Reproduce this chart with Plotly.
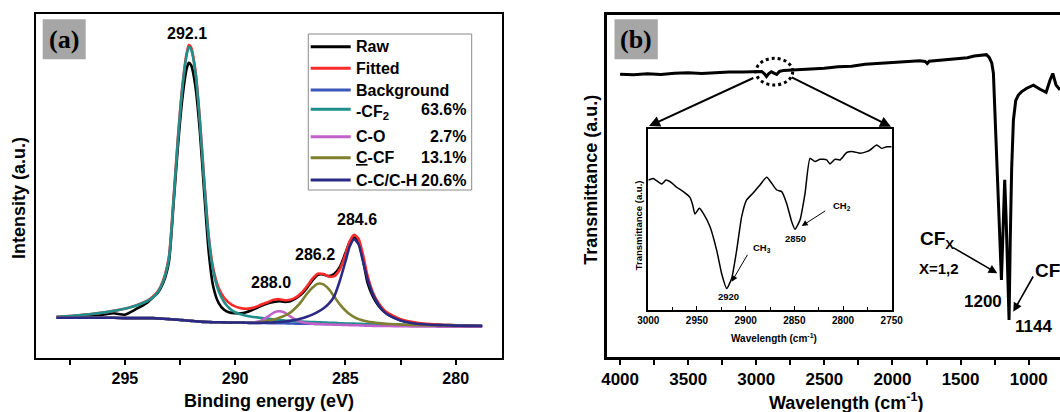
import plotly.graph_objects as go

W, H = 1060, 412
def X(p): return p / W
def Y(p): return 1 - p / H

# ---------------- panel (a): XPS C1s ----------------
BE = [298.1, 297.5, 297.0, 296.5, 296.0, 295.5, 295.0, 294.5, 294.0,
      293.75, 293.5, 293.25, 293.0, 292.8, 292.6, 292.4, 292.2, 292.1, 292.0,
      291.8, 291.6, 291.4, 291.2, 291.0, 290.75, 290.5, 290.25, 290.0,
      289.75, 289.5, 289.25, 289.0, 288.75, 288.5, 288.25, 288.0,
      287.75, 287.5, 287.25, 287.0, 286.75, 286.5, 286.25, 286.0,
      285.75, 285.5, 285.25, 285.0, 284.8, 284.6, 284.4, 284.2, 284.0,
      283.75, 283.5, 283.25, 283.0, 282.5, 282.0, 281.5, 281.0, 280.5, 280.0, 279.5, 278.8]

RAW = [11.8, 11.9, 12.1, 12.3, 12.6, 13.0, 12.6, 14.2, 16.0,
       17.5, 19.0, 22.0, 28.0, 44.0, 61.0, 75.0, 84.0, 85.8, 85.2,
       79.0, 66.0, 48.0, 31.0, 21.0, 16.0, 14.0, 13.2, 13.0,
       13.0, 13.3, 13.9, 14.6, 15.3, 15.9, 16.3, 16.5,
       16.3, 16.5, 17.3, 18.5, 20.3, 22.5, 24.2, 24.3,
       23.8, 24.5, 26.5, 30.5, 33.8, 35.0, 33.5, 28.5, 22.0,
       17.8, 15.2, 13.5, 12.4, 11.0, 10.3, 9.9, 9.7, 9.6, 9.5, 9.4, 9.3]

FITTED = [12.0, 12.2, 12.5, 12.8, 13.2, 13.7, 14.3, 15.3, 16.6,
          17.7, 19.4, 22.8, 29.5, 45.5, 63.5, 78.5, 88.5, 91.0, 90.4,
          83.6, 69.6, 51.6, 35.7, 26.3, 20.4, 17.5, 15.9, 15.0,
          14.5, 14.3, 14.5, 15.0, 15.7, 16.3, 16.9, 17.1,
          16.8, 16.9, 17.6, 18.9, 20.8, 23.0, 24.5, 24.4,
          23.7, 23.8, 25.8, 30.0, 34.0, 35.8, 34.6, 30.0, 24.0,
          19.0, 16.0, 14.0, 12.8, 11.3, 10.5, 10.0, 9.8, 9.6, 9.5, 9.4, 9.3]

BACKGROUND = [11.7, 11.7, 11.7, 11.7, 11.7, 11.7, 11.6, 11.6, 11.6,
              11.6, 11.5, 11.4, 11.3, 11.2, 11.1, 11.0, 10.9, 10.85, 10.8,
              10.7, 10.6, 10.5, 10.45, 10.4, 10.4, 10.35, 10.3, 10.3,
              10.3, 10.25, 10.2, 10.2, 10.2, 10.15, 10.1, 10.1,
              10.1, 10.05, 10.0, 10.0, 10.0, 9.95, 9.9, 9.9,
              9.9, 9.85, 9.8, 9.8, 9.8, 9.75, 9.75, 9.7, 9.7,
              9.7, 9.65, 9.6, 9.6, 9.55, 9.5, 9.45, 9.4, 9.4, 9.35, 9.3, 9.3]

CF2 = [12.0, 12.2, 12.5, 12.8, 13.2, 13.7, 14.3, 15.2, 16.5,
       17.5, 19.2, 22.5, 29.0, 45.0, 63.0, 78.0, 88.0, 90.4, 89.8,
       83.0, 69.0, 51.0, 35.0, 25.5, 19.5, 16.3, 14.4, 13.3,
       12.7, 12.3, 12.0, 11.8, 11.6, 11.4, 11.2, 11.0,
       10.9, 10.8, 10.7, 10.6, 10.5, 10.45, 10.4, 10.3,
       10.25, 10.2, 10.1, 10.05, 10.0, 10.0, 9.95, 9.9, 9.9,
       9.85, 9.8, 9.8, 9.75, 9.7, 9.6, 9.55, 9.5, 9.45, 9.4, 9.35, 9.3]

CO = [11.7, 11.7, 11.7, 11.7, 11.7, 11.7, 11.6, 11.6, 11.6,
      11.6, 11.5, 11.4, 11.3, 11.2, 11.1, 11.0, 10.9, 10.85, 10.8,
      10.7, 10.6, 10.5, 10.45, 10.4, 10.4, 10.35, 10.3, 10.3,
      10.3, 10.25, 10.3, 10.5, 11.1, 12.1, 13.2, 13.6,
      13.2, 12.1, 11.1, 10.5, 10.2, 10.0, 9.9, 9.8,
      9.75, 9.7, 9.65, 9.6, 9.55, 9.5, 9.5, 9.45, 9.4,
      9.35, 9.3, 9.3, 9.3, 9.25, 9.2, 9.15, 9.15, 9.1, 9.1, 9.1, 9.1]

CCF = [11.7, 11.7, 11.7, 11.7, 11.7, 11.7, 11.6, 11.6, 11.6,
       11.6, 11.5, 11.4, 11.3, 11.2, 11.1, 11.0, 10.9, 10.85, 10.8,
       10.7, 10.6, 10.5, 10.45, 10.4, 10.4, 10.35, 10.3, 10.3,
       10.3, 10.25, 10.25, 10.3, 10.5, 10.8, 11.2, 11.7,
       12.3, 13.2, 14.6, 16.4, 18.6, 20.4, 21.6, 21.4,
       20.0, 17.8, 15.6, 13.8, 12.7, 11.9, 11.3, 10.9, 10.6,
       10.35, 10.15, 10.0, 9.9, 9.75, 9.6, 9.5, 9.45, 9.4, 9.35, 9.3, 9.3]

CCH = [11.7, 11.7, 11.7, 11.7, 11.7, 11.7, 11.6, 11.6, 11.6,
       11.6, 11.5, 11.4, 11.3, 11.2, 11.1, 11.0, 10.9, 10.85, 10.8,
       10.7, 10.6, 10.5, 10.45, 10.4, 10.4, 10.35, 10.3, 10.3,
       10.3, 10.25, 10.2, 10.2, 10.25, 10.3, 10.35, 10.45,
       10.6, 10.8, 11.1, 11.5, 12.0, 12.6, 13.4, 14.4,
       15.8, 18.0, 22.5, 28.0, 32.5, 34.5, 33.0, 28.0, 23.0,
       18.5, 15.5, 13.5, 12.3, 10.9, 10.2, 9.8, 9.6, 9.5, 9.4, 9.35, 9.3]

SERIES_A = [("Raw", RAW, "#000000"),
            ("Fitted", FITTED, "#ff2a2a"),
            ("Background", BACKGROUND, "#3a56b8"),
            ("-CF<sub>2</sub>", CF2, "#1f8f8c"),
            ("C-O", CO, "#c060c8"),
            ("<u>C</u>-CF", CCF, "#7f8030"),
            ("C-C/C-H", CCH, "#2a2a84")]
LEGEND_PCT = ["", "", "", "63.6%", "2.7%", "13.1%", "20.6%"]
PEAK_LABELS = ["292.1", "288.0", "286.2", "284.6"]
TICKS_A = [295, 290, 285, 280]

# ---------------- panel (b): FTIR ----------------
WN = [4000, 3900, 3800, 3700, 3600, 3500, 3400, 3300, 3200, 3100, 3000,
      2960, 2940, 2925, 2910, 2890, 2870, 2850, 2830, 2800, 2700, 2600,
      2500, 2400, 2300, 2200, 2100, 2000, 1900, 1800, 1760, 1745, 1730,
      1700, 1600, 1500, 1450, 1400, 1350, 1310, 1290, 1271, 1259, 1245,
      1234, 1217, 1200, 1188, 1176, 1165, 1155, 1144, 1135, 1125, 1112,
      1095, 1076, 1051, 1014, 965, 916, 872, 843, 823, 799, 770]
TRANS = [82.7, 82.5, 82.8, 82.6, 83.0, 83.1, 82.9, 83.2, 83.3, 83.3, 83.5,
         83.5, 82.8, 82.0, 82.8, 83.4, 83.0, 82.6, 83.5, 83.8, 84.0, 84.2,
         84.4, 84.9, 85.0, 85.6, 85.8, 86.1, 86.2, 86.6, 86.4, 85.8, 86.5,
         86.6, 87.0, 87.3, 87.5, 88.0, 88.2, 88.4, 87.6, 86.0, 83.0, 70.0,
         55.0, 40.0, 22.5, 35.0, 51.8, 40.0, 25.0, 10.8, 35.0, 55.0, 69.3,
         75.0, 76.6, 77.6, 78.6, 79.5, 78.3, 77.4, 81.0, 82.9, 79.5, 78.1]
TICKS_B = [4000, 3500, 3000, 2500, 2000, 1500, 1000]

# inset (zoom 3000-2750)
WN_IN = [3000, 2994.9, 2986.3, 2981.8, 2976.0, 2970.9, 2964.0, 2957.2, 2954.4,
         2952.1, 2947.6, 2943.5, 2936.6, 2929.8, 2924.7, 2919.5, 2914.4, 2909.2,
         2904.1, 2899.0, 2892.1, 2885.3, 2878.4, 2873.3, 2868.1, 2863.0, 2857.9,
         2852.7, 2849.3, 2844.2, 2839.0, 2833.9, 2828.8, 2823.6, 2816.8, 2813.4,
         2808.2, 2803.1, 2796.2, 2789.4, 2782.5, 2775.7, 2772.2, 2765.4, 2760.3,
         2755.1, 2750]
TR_IN = [71.8, 72.7, 69.6, 71.8, 70.3, 67.8, 65.4, 62.2, 58.0,
         53.0, 56.2, 53.4, 46.0, 33.1, 20.2, 11.9, 17.4, 33.1,
         51.6, 60.8, 64.8, 69.1, 73.3, 70.0, 66.3, 65.4, 58.9,
         48.8, 44.6, 49.7, 64.5, 83.8, 82.0, 83.3, 82.9, 80.7,
         83.3, 82.9, 87.0, 87.5, 86.6, 87.5, 88.4, 91.2, 89.3,
         90.2, 90.2]
TICKS_IN = [3000, 2950, 2900, 2850, 2800, 2750]

FONT = "Liberation Sans"

fig = go.Figure()

for name, ys, col in SERIES_A:
    fig.add_trace(go.Scatter(x=BE, y=ys, mode="lines", name=name,
                             line=dict(color=col, width=2.6, shape="spline", smoothing=0.6),
                             xaxis="x", yaxis="y", showlegend=False))

fig.add_trace(go.Scatter(x=WN, y=TRANS, mode="lines", line=dict(color="black", width=3),
                         xaxis="x2", yaxis="y2", showlegend=False))
fig.add_trace(go.Scatter(x=WN_IN, y=TR_IN, mode="lines",
                         line=dict(color="black", width=1.5, shape="spline", smoothing=0.5),
                         xaxis="x3", yaxis="y3", showlegend=False))

axis_common = dict(showline=True, linecolor="black", showgrid=False, zeroline=False, automargin=False)

fig.update_layout(
    template="none",
    width=W, height=H, margin=dict(l=0, r=0, t=0, b=0, pad=0, autoexpand=False),
    paper_bgcolor="white", plot_bgcolor="white", showlegend=False,
    font=dict(family=FONT, color="black"),
    xaxis=dict(domain=[X(35.5), X(502)], range=[299.05, 277.9], linewidth=2, mirror=True,
               tickvals=TICKS_A, ticktext=[f"<b>{t}</b>" for t in TICKS_A],
               ticks="outside", ticklen=5, tickwidth=2, tickcolor="black",
               tickfont=dict(size=16, family=FONT),
               minor=dict(ticks="outside", ticklen=5, tickwidth=2, tickcolor="black", dtick=2.5, tick0=280),
               anchor="y", **axis_common),
    yaxis=dict(domain=[Y(358), Y(14)], range=[0, 100], linewidth=2, mirror=True,
               showticklabels=False, ticks="", anchor="x", **axis_common),
    xaxis2=dict(domain=[X(607), 1.0], range=[4096, 770], linewidth=2.5, mirror=True,
                tickvals=TICKS_B, ticktext=[f"<b>{t}</b>" for t in TICKS_B],
                ticks="outside", ticklen=5, tickwidth=2, tickcolor="black",
                tickfont=dict(size=17, family=FONT),
                minor=dict(ticks="outside", ticklen=5, tickwidth=2, tickcolor="black", dtick=250, tick0=1000),
                anchor="y2", **axis_common),
    yaxis2=dict(domain=[Y(357), Y(15)], range=[0, 100], linewidth=2.5, mirror=False,
                showticklabels=False, ticks="", anchor="x2", **axis_common),
    xaxis3=dict(domain=[X(648.3), X(891.7)], range=[3000, 2750], linewidth=1.5, mirror=True,
                tickvals=TICKS_IN, ticktext=[f"<b>{t}</b>" for t in TICKS_IN],
                ticks="inside", ticklen=4, tickwidth=1, tickcolor="black",
                tickfont=dict(size=10, family=FONT),
                minor=dict(ticks="inside", ticklen=3, tickwidth=1, tickcolor="black", dtick=25, tick0=2750),
                anchor="y3", **axis_common),
    yaxis3=dict(domain=[Y(310), Y(129)], range=[0, 100], linewidth=1.5, mirror=True,
                showticklabels=False, ticks="", anchor="x3", **axis_common),
)

shapes = []
ann = []

def text(x, y, s, size, xanchor="center", yanchor="middle", angle=0, family=FONT, bold=True):
    ann.append(dict(x=X(x), y=Y(y), xref="paper", yref="paper", text=(f"<b>{s}</b>" if bold else s),
                    showarrow=False, xanchor=xanchor, yanchor=yanchor, textangle=angle,
                    font=dict(size=size, family=family, color="black")))

def arrow(hx, hy, tx, ty, width=2, head=2, size=1.0):
    ann.append(dict(x=X(hx), y=Y(hy), xref="paper", yref="paper", text="", showarrow=True,
                    ax=tx - hx, ay=ty - hy, arrowhead=head, arrowsize=size, arrowwidth=width,
                    arrowcolor="black"))

# panel labels in gray boxes
for (x0, x1), lab in [((42.7, 85.7), "(a)"), ((614.5, 657.8), "(b)")]:
    shapes.append(dict(type="rect", xref="paper", yref="paper", x0=X(x0), x1=X(x1),
                       y0=Y(59.3), y1=Y(19.3), fillcolor="#a6a6a6", line=dict(width=0)))
    text((x0 + x1) / 2, 39.5, lab, 26, family="Liberation Serif")

# legend of panel (a)
shapes.append(dict(type="rect", xref="paper", yref="paper", x0=X(308.3), x1=X(471.7),
                   y0=Y(190), y1=Y(34), line=dict(color="#8a8a8a", width=1), fillcolor="rgba(0,0,0,0)"))
row_y = [46.7, 68.3, 90.0, 109.3, 136.7, 157.7, 180.0]
for (name, _, col), pct, ry in zip(SERIES_A, LEGEND_PCT, row_y):
    shapes.append(dict(type="line", xref="paper", yref="paper", x0=X(310.7), x1=X(350.7),
                       y0=Y(ry), y1=Y(ry), line=dict(color=col, width=3)))
    if "sub" in name:
        text(354, ry - 8.5, name, 16, xanchor="left", yanchor="top")
    else:
        text(354, ry, name, 16, xanchor="left")
    if pct:
        text(468, ry, pct, 16, xanchor="right")

# peak labels
for lab, (cx, cy) in zip(PEAK_LABELS, [(187.3, 33.3), (271.4, 282.7), (314.7, 255.0), (357.0, 219.3)]):
    text(cx, cy, lab, 16)

# axis titles
text(268.7, 401, "Binding energy (eV)", 18)
text(19, 198, "Intensity (a.u.)", 18, angle=-90)
text(846, 401, "Wavelength (cm<sup>-1</sup>)", 18)
text(590.8, 180, "Transmittance (a.u.)", 18, angle=-90)

# inset titles and labels
text(773.8, 337.7, "Wavelength (cm<sup>-1</sup>)", 10)
text(638.3, 225, "Transmittance (a.u.)", 9.5, angle=-90)
text(728.3, 296.7, "2920", 9.5)
text(795.0, 238.3, "2850", 9.5)
text(750.5, 248.3, "CH<sub>3</sub>", 9.5, xanchor="left")
text(830.5, 205.7, "CH<sub>2</sub>", 9.5, xanchor="left")
arrow(731.7, 281.7, 748.3, 253.3, width=1, head=2, size=1.2)
arrow(801.7, 226.0, 826.7, 210.0, width=1, head=2, size=1.2)

# zoom ellipse and arrows to inset
shapes.append(dict(type="circle", xref="paper", yref="paper", x0=X(756), x1=X(792.7),
                   y0=Y(85), y1=Y(58.3), line=dict(color="black", width=3, dash="dot")))
arrow(649.0, 126.0, 754.8, 77.3, width=2, head=2, size=1.1)
arrow(891.0, 126.7, 790.3, 76.7, width=2, head=2, size=1.1)

# peak annotations of panel (b)
text(918, 240, "CF<sub>X</sub>", 19, xanchor="left")
text(916.5, 268.3, "X=1,2", 15, xanchor="left")
arrow(997.3, 273.3, 951.7, 246.7, width=1.6, head=2, size=1.1)
text(1004, 301, "1200", 17, xanchor="right")
text(1013, 326.7, "1144", 17, xanchor="left")
text(1033, 272, "CF<sub>2</sub>", 19, xanchor="left")
arrow(1013.3, 311.7, 1034.0, 275.0, width=1.6, head=2, size=1.1)

fig.update_layout(shapes=shapes, annotations=ann)
fig.write_html("out.html", config={"displayModeBar": False},
               post_script="document.body.style.margin='0';document.body.style.padding='0';")
